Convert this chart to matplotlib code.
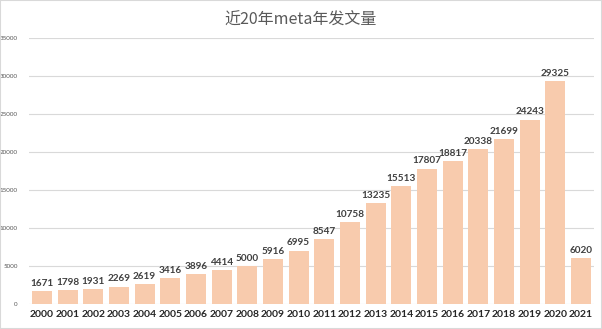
import matplotlib.pyplot as plt
from matplotlib.patches import Rectangle

years = ['2000', '2001', '2002', '2003', '2004', '2005', '2006', '2007', '2008', '2009', '2010',
         '2011', '2012', '2013', '2014', '2015', '2016', '2017', '2018', '2019', '2020', '2021']
counts = [1671, 1798, 1931, 2269, 2619, 3416, 3896, 4414, 5000, 5916, 6995,
          8547, 10758, 13235, 15513, 17807, 18817, 20338, 21699, 24243, 29325, 6020]
yticks = [0, 5000, 10000, 15000, 20000, 25000, 30000, 35000]

plt.rcParams['font.family'] = ['Lato', 'Noto Sans CJK SC', 'DejaVu Sans']

fig = plt.figure(figsize=(6.02, 3.29), dpi=100)
ax = fig.add_axes([29 / 602, 25 / 329, 565 / 602, 266 / 329])

x = range(len(years))
ax.bar(x, counts, width=0.78, color='#F8CBAD', zorder=2)
for i, v in zip(x, counts):
    ax.text(i, v + 450, str(v), ha='center', va='bottom', fontsize=7.2,
            fontweight='bold', color='#404040')

ax.set_xlim(-0.5, len(years) - 0.5)
ax.set_ylim(0, 35000)
ax.set_yticks(yticks)
ax.set_yticklabels([str(t) for t in yticks], fontsize=4.5, color='#595959')
ax.set_xticks(list(x))
ax.set_xticklabels(years, fontsize=7.5, fontweight='bold', color='#262626')
ax.tick_params(axis='both', length=0)
ax.tick_params(axis='y', pad=8)
ax.tick_params(axis='x', pad=4)
ax.grid(axis='y', color='#D9D9D9', linewidth=0.8, zorder=0)
for s in ax.spines.values():
    s.set_visible(False)

fig.text(0.5, 1 - 20 / 329, '近20年meta年发文量', ha='center', va='center',
         fontsize=11.5, color='#595959', family=['Noto Sans CJK SC', 'DejaVu Sans'])

fig.patches.append(Rectangle((0, 0), 1, 1, transform=fig.transFigure, fill=False,
                             edgecolor='#D9D9D9', linewidth=1.5))

fig.savefig('out.png', dpi=100)
